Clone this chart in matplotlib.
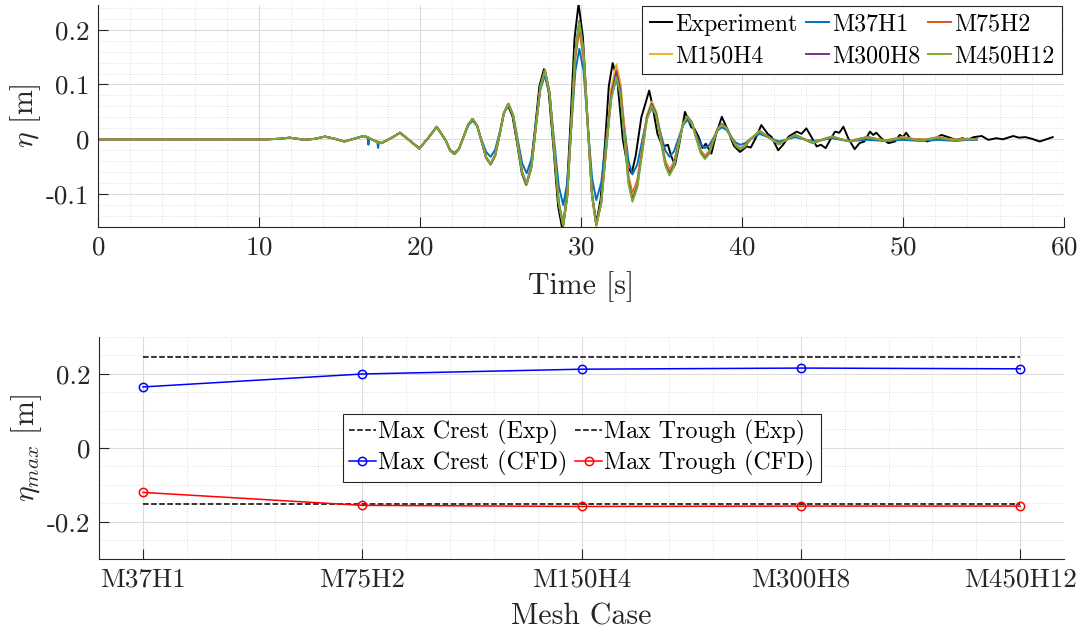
import matplotlib
matplotlib.use('Agg')
import matplotlib.pyplot as plt
from matplotlib.ticker import MultipleLocator, FuncFormatter

plt.rcParams['font.family'] = 'serif'
plt.rcParams['font.serif'] = ['cmr10']
plt.rcParams['mathtext.fontset'] = 'cm'
plt.rcParams['axes.unicode_minus'] = False
plt.rcParams['axes.formatter.use_mathtext'] = True

# --- time series (crests, troughs, shoulders, crossings) ---
t_cfd = [0.0, 10.5, 11.3, 11.9, 12.4, 12.8, 13.5, 14.1, 14.7, 15.3,
         15.9, 16.5, 16.75, 16.8, 16.85, 17.35, 17.4, 17.45, 17.6, 18.2,
         18.76, 19.35, 19.96, 20.5, 21.04, 21.6, 21.87, 22.13, 22.42, 22.7,
         22.99, 23.27, 23.55, 23.83, 24.11, 24.39, 24.67, 24.95, 25.22, 25.5,
         25.79, 26.07, 26.35, 26.63, 26.92, 27.2, 27.48, 27.76, 28.05, 28.33,
         28.62, 28.9, 29.15, 29.4, 29.65, 29.9, 30.16, 30.42, 30.69, 30.95,
         31.26, 31.57, 31.89, 32.2, 32.45, 32.7, 32.95, 33.2, 33.5, 33.8,
         34.1, 34.4, 34.68, 34.95, 35.23, 35.5, 35.78, 36.05, 36.33, 36.6,
         36.88, 37.15, 37.43, 37.7, 37.96, 38.22, 38.49, 38.75, 39.04, 39.32,
         39.61, 39.9, 40.2, 40.5, 41.1, 41.7, 42.3, 42.8, 43.3, 43.85,
         44.4, 45.0, 45.6, 46.15, 46.7, 47.25, 47.8, 48.35, 48.9, 49.45,
         50.0, 50.55, 51.1, 51.65, 52.2, 52.75, 53.3, 53.95, 54.6]

# start of the record, the same for the finer meshes (t = 0 ... 21.04 s)
start = [0, 0, 0.001, 0.003, 0.001, -0.001, 0.001, 0.005, 0.001, -0.004,
         0.001, 0.006, 0.004, 0.003, 0.002, -0.005, -0.006, -0.006, -0.007, 0.002,
         0.012, -0.002, -0.017, 0.002, 0.023]

eta_m37 = [0, 0, 0.001, 0.003, 0.001, -0.001, 0.001, 0.005, 0.001, -0.004,
           0.001, 0.006, 0.004, -0.010, 0.002, -0.005, -0.016, -0.006, -0.007, 0.002,
           0.012, -0.002, -0.016, 0.002, 0.022, -0.002, -0.019, -0.025, -0.017, 0.004,
           0.025, 0.034, 0.024, -0.001, -0.023, -0.032, -0.019, 0.013, 0.048, 0.062,
           0.044, 0.0, -0.044, -0.062, -0.036, 0.027, 0.091, 0.117, 0.083, -0.001,
           -0.085, -0.120, -0.079, 0.022, 0.124, 0.165, 0.125, 0.027, -0.071, -0.111,
           -0.079, 0.0, 0.078, 0.110, 0.084, 0.022, -0.039, -0.064, -0.046, -0.003,
           0.040, 0.057, 0.044, 0.011, -0.020, -0.032, -0.022, 0.001, 0.025, 0.035,
           0.027, 0.009, -0.009, -0.016, -0.011, 0.002, 0.016, 0.022, 0.017, 0.005,
           -0.006, -0.010, -0.007, 0.0, 0.010, 0.003, -0.004, 0.0, 0.004, 0.0,
           -0.003, -0.001, 0.002, -0.001, -0.003, -0.002, -0.001, -0.002, -0.003, -0.002,
           -0.001, -0.002, -0.003, -0.002, -0.001, -0.002, -0.003, -0.001, -0.001]

eta_m75 = start + [
    -0.002, -0.020, -0.027, -0.018, 0.004,
    0.027, 0.037, 0.025, -0.004, -0.033, -0.045, -0.029, 0.010, 0.049, 0.065,
    0.044, -0.008, -0.060, -0.081, -0.051, 0.023, 0.097, 0.127, 0.086, -0.015,
    -0.115, -0.156, -0.104, 0.022, 0.148, 0.200, 0.148, 0.022, -0.104, -0.155,
    -0.114, -0.012, 0.090, 0.132, 0.098, 0.016, -0.066, -0.099, -0.075, -0.015,
    0.043, 0.066, 0.048, 0.005, -0.038, -0.056, -0.042, -0.007, 0.027, 0.041,
    0.031, 0.005, -0.020, -0.030, -0.022, -0.001, 0.020, 0.028, 0.021, 0.005,
    -0.010, -0.016, -0.011, 0.0, 0.015, 0.003, -0.008, 0.0, 0.008, 0.001,
    -0.006, 0.0, 0.005, 0.0, -0.003, 0.001, 0.004, 0.001, -0.002, 0.001,
    0.004, 0.001, -0.001, 0.001, 0.004, 0.001, -0.001, 0.001, 0.0]

eta_m150 = start + [
    -0.002, -0.020, -0.027, -0.018, 0.004,
    0.027, 0.037, 0.025, -0.004, -0.033, -0.045, -0.029, 0.010, 0.049, 0.065,
    0.044, -0.008, -0.060, -0.081, -0.051, 0.022, 0.096, 0.126, 0.085, -0.016,
    -0.117, -0.158, -0.104, 0.027, 0.159, 0.213, 0.159, 0.027, -0.104, -0.158,
    -0.115, -0.011, 0.094, 0.137, 0.102, 0.016, -0.070, -0.105, -0.080, -0.018,
    0.044, 0.069, 0.050, 0.005, -0.040, -0.058, -0.044, -0.008, 0.028, 0.042,
    0.031, 0.005, -0.021, -0.032, -0.023, -0.002, 0.019, 0.028, 0.021, 0.005,
    -0.011, -0.017, -0.012, 0.0, 0.015, 0.003, -0.008, 0.0, 0.008, 0.001,
    -0.006, 0.0, 0.005, 0.0, -0.003, 0.001, 0.004, 0.001, -0.002, 0.001,
    0.004, 0.001, -0.001, 0.001, 0.004, 0.001, -0.001, 0.001, 0.0]

eta_m300 = start + [
    -0.002, -0.020, -0.027, -0.018, 0.004,
    0.027, 0.037, 0.025, -0.004, -0.033, -0.045, -0.029, 0.010, 0.048, 0.064,
    0.043, -0.009, -0.061, -0.082, -0.052, 0.022, 0.096, 0.126, 0.085, -0.016,
    -0.117, -0.158, -0.104, 0.028, 0.161, 0.216, 0.162, 0.029, -0.103, -0.157,
    -0.116, -0.017, 0.083, 0.124, 0.090, 0.006, -0.076, -0.110, -0.084, -0.022,
    0.040, 0.065, 0.046, 0.001, -0.044, -0.062, -0.047, -0.010, 0.027, 0.042,
    0.031, 0.004, -0.023, -0.034, -0.025, -0.003, 0.019, 0.028, 0.021, 0.005,
    -0.012, -0.018, -0.013, -0.001, 0.015, 0.003, -0.009, 0.0, 0.008, 0.0,
    -0.007, -0.001, 0.005, 0.0, -0.004, 0.0, 0.004, 0.0, -0.003, 0.0,
    0.003, 0.0, -0.002, 0.0, 0.003, 0.0, -0.002, 0.0, 0.0]

eta_m450 = start + [
    -0.002, -0.020, -0.027, -0.018, 0.004,
    0.027, 0.037, 0.025, -0.004, -0.033, -0.045, -0.029, 0.010, 0.048, 0.064,
    0.043, -0.009, -0.061, -0.082, -0.052, 0.022, 0.095, 0.125, 0.084, -0.016,
    -0.116, -0.157, -0.103, 0.028, 0.160, 0.214, 0.160, 0.028, -0.103, -0.157,
    -0.117, -0.020, 0.075, 0.114, 0.081, 0.0, -0.081, -0.114, -0.088, -0.026,
    0.036, 0.061, 0.043, -0.002, -0.047, -0.066, -0.050, -0.012, 0.026, 0.041,
    0.030, 0.003, -0.025, -0.036, -0.027, -0.004, 0.018, 0.027, 0.020, 0.004,
    -0.012, -0.018, -0.013, -0.001, 0.015, 0.003, -0.009, 0.0, 0.008, 0.0,
    -0.007, -0.001, 0.005, 0.0, -0.004, 0.0, 0.004, 0.0, -0.003, 0.0,
    0.003, 0.0, -0.002, 0.0, 0.003, 0.0, -0.002, 0.0, 0.0]

t_exp = [0.0, 10.5, 11.3, 11.9, 12.4, 12.8, 13.5, 14.1, 14.7, 15.3,
         15.9, 16.5, 17.05, 17.6, 18.2, 18.76, 19.35, 19.96, 20.5, 21.04,
         21.6, 21.87, 22.13, 22.42, 22.7, 23.0, 23.27, 23.55, 23.83, 24.11,
         24.39, 24.67, 24.95, 25.2, 25.45, 25.75, 26.05, 26.33, 26.6, 26.88,
         27.15, 27.42, 27.7, 28.0, 28.3, 28.58, 28.85, 29.1, 29.35, 29.6,
         29.85, 30.12, 30.4, 30.68, 30.95, 31.22, 31.5, 31.73, 31.97, 32.25,
         32.6, 32.9, 33.15, 33.4, 33.75, 34.05, 34.24, 34.45, 34.75, 35.0,
         35.2, 35.4, 35.6, 35.84, 36.1, 36.46, 36.85, 37.05, 37.3, 37.55,
         37.75, 38.1, 38.4, 38.75, 39.1, 39.5, 39.88, 40.3, 40.55, 40.9,
         41.2, 41.6, 41.85, 42.25, 42.55, 42.9, 43.4, 43.7, 44.0, 44.3,
         44.64, 44.9, 45.2, 45.5, 45.78, 46.05, 46.3, 46.6, 47.0, 47.3,
         47.6, 47.95, 48.15, 48.35, 48.65, 49.1, 49.5, 49.8, 50.0, 50.2,
         50.5, 50.9, 51.3, 51.5, 51.9, 52.4, 52.8, 53.3, 53.7, 54.0,
         54.4, 54.9, 55.3, 55.8, 56.2, 56.85, 57.2, 57.6, 58.0, 58.5,
         58.9, 59.3]

eta_exp = [0, 0, 0.001, 0.003, 0.001, -0.001, 0.001, 0.005, 0.001, -0.004,
           0.001, 0.006, -0.001, -0.007, 0.002, 0.012, -0.002, -0.017, 0.002, 0.023,
           -0.002, -0.020, -0.027, -0.018, 0.004, 0.027, 0.037, 0.025, -0.004, -0.034,
           -0.046, -0.030, 0.008, 0.047, 0.063, 0.042, -0.010, -0.062, -0.083, -0.053,
           0.020, 0.097, 0.128, 0.086, -0.018, -0.122, -0.165, -0.108, 0.030, 0.184,
           0.247, 0.187, 0.040, -0.097, -0.153, -0.110, -0.005, 0.097, 0.139, 0.110,
           0.0, -0.050, -0.062, -0.030, 0.040, 0.070, 0.089, 0.060, 0.010, -0.008,
           -0.012, -0.010, -0.030, -0.047, -0.010, 0.050, 0.022, 0.019, 0.005, -0.016,
           -0.008, -0.026, 0.010, 0.041, 0.018, -0.012, -0.023, -0.013, -0.015, 0.005,
           0.026, 0.010, 0.004, -0.020, -0.010, 0.005, 0.014, 0.010, 0.020, 0.005,
           -0.013, -0.010, -0.016, 0.0, 0.014, 0.012, 0.023, 0.002, -0.018, -0.007,
           -0.004, 0.014, 0.008, 0.012, 0.002, -0.007, -0.004, 0.008, 0.004, 0.012,
           -0.001, 0.0, -0.001, -0.004, 0.0, 0.008, 0.004, -0.001, 0.002, -0.001,
           0.004, 0.006, -0.001, 0.002, 0.0, 0.006, 0.003, 0.004, 0.001, -0.004,
           0.0, 0.004]

# --- max crest / trough per mesh ---
meshes = ['M37H1', 'M75H2', 'M150H4', 'M300H8', 'M450H12']
crest_cfd = [0.165, 0.200, 0.213, 0.216, 0.214]
trough_cfd = [-0.120, -0.155, -0.158, -0.157, -0.157]
crest_exp = 0.247
trough_exp = -0.151

cfd_series = [('M37H1', eta_m37, '#0072BD'),
              ('M75H2', eta_m75, '#D95319'),
              ('M150H4', eta_m150, '#EDB120'),
              ('M300H8', eta_m300, '#7E2F8E'),
              ('M450H12', eta_m450, '#77AC30')]

fig = plt.figure(figsize=(10.86, 6.35), dpi=100)
ax1 = fig.add_axes([0.0902, 0.6425, 0.8895, 0.3496])
ax2 = fig.add_axes([0.0912, 0.1197, 0.8886, 0.3496])

txt = '#262626'


def style(ax):
    for s in ['top', 'right']:
        ax.spines[s].set_visible(False)
    for s in ['left', 'bottom']:
        ax.spines[s].set_color(txt)
        ax.spines[s].set_linewidth(0.8)
    ax.tick_params(which='major', direction='in', length=7, width=0.8,
                   colors=txt, labelsize=19.5, pad=6)
    ax.tick_params(which='minor', length=0)
    ax.grid(which='major', color='#dcdcdc', linewidth=0.8)
    ax.grid(which='minor', color='#d4d4d4', linewidth=0.6, linestyle=(0, (1, 2)))
    ax.set_axisbelow(True)
    ax.yaxis.set_major_formatter(FuncFormatter(lambda v, p: '%g' % round(v, 3)))


# top: time series
h_exp, = ax1.plot(t_exp, eta_exp, color='black', lw=1.4, label='Experiment')
handles = {'Experiment': h_exp}
for name, eta, col in cfd_series:
    h, = ax1.plot(t_cfd, eta, color=col, lw=1.4, label=name)
    handles[name] = h
ax1.set_xlim(0, 60)
ax1.set_ylim(-0.16, 0.245)
ax1.xaxis.set_major_locator(MultipleLocator(10))
ax1.xaxis.set_minor_locator(MultipleLocator(2))
ax1.yaxis.set_major_locator(MultipleLocator(0.1))
ax1.yaxis.set_minor_locator(MultipleLocator(0.02))
style(ax1)
ax1.set_xlabel('Time [s]', fontsize=21.5, color=txt, labelpad=9)
ax1.set_ylabel(r'$\eta$ [m]', fontsize=21.5, color=txt, labelpad=2)
order = ['Experiment', 'M150H4', 'M37H1', 'M300H8', 'M75H2', 'M450H12']
leg1 = ax1.legend([handles[k] for k in order], order, ncol=3, loc='upper right',
                  bbox_to_anchor=(0.999, 1.0), fontsize=17.3, handlelength=0.95,
                  handletextpad=0.12, columnspacing=0.35, borderpad=0.3,
                  labelspacing=0.4, fancybox=False, framealpha=1,
                  edgecolor=txt, borderaxespad=0.05)
leg1.get_frame().set_linewidth(0.8)

# bottom: max crest / trough
xpos = list(range(1, len(meshes) + 1))
l1, = ax2.plot([xpos[0], xpos[-1]], [crest_exp, crest_exp], 'k--', lw=1.1,
               label='Max Crest (Exp)')
l2, = ax2.plot(xpos, crest_cfd, 'b-o', lw=1.1, mfc='none', ms=6, mew=1.1,
               label='Max Crest (CFD)')
l3, = ax2.plot([xpos[0], xpos[-1]], [trough_exp, trough_exp], 'k--', lw=1.1,
               label='Max Trough (Exp)')
l4, = ax2.plot(xpos, trough_cfd, 'r-o', lw=1.1, mfc='none', ms=6, mew=1.1,
               label='Max Trough (CFD)')
ax2.set_xlim(0.8, 5.2)
ax2.set_ylim(-0.3, 0.3)
ax2.set_xticks(xpos)
ax2.set_xticklabels(meshes)
ax2.xaxis.set_minor_locator(MultipleLocator(0.2))
ax2.yaxis.set_major_locator(MultipleLocator(0.2))
ax2.yaxis.set_minor_locator(MultipleLocator(0.05))
style(ax2)
ax2.set_xlabel('Mesh Case', fontsize=21.5, color=txt, labelpad=9)
ax2.set_ylabel(r'$\eta_{max}$ [m]', fontsize=21.5, color=txt, labelpad=2)
leg2 = ax2.legend([l1, l2, l3, l4], [l.get_label() for l in [l1, l2, l3, l4]],
                  ncol=2, loc='center', fontsize=17.3, handlelength=1.15,
                  handletextpad=0.08, columnspacing=0.3, borderpad=0.25,
                  labelspacing=0.25, fancybox=False, framealpha=1, edgecolor=txt)
leg2.get_frame().set_linewidth(0.8)

fig.savefig('out.png', dpi=100)
